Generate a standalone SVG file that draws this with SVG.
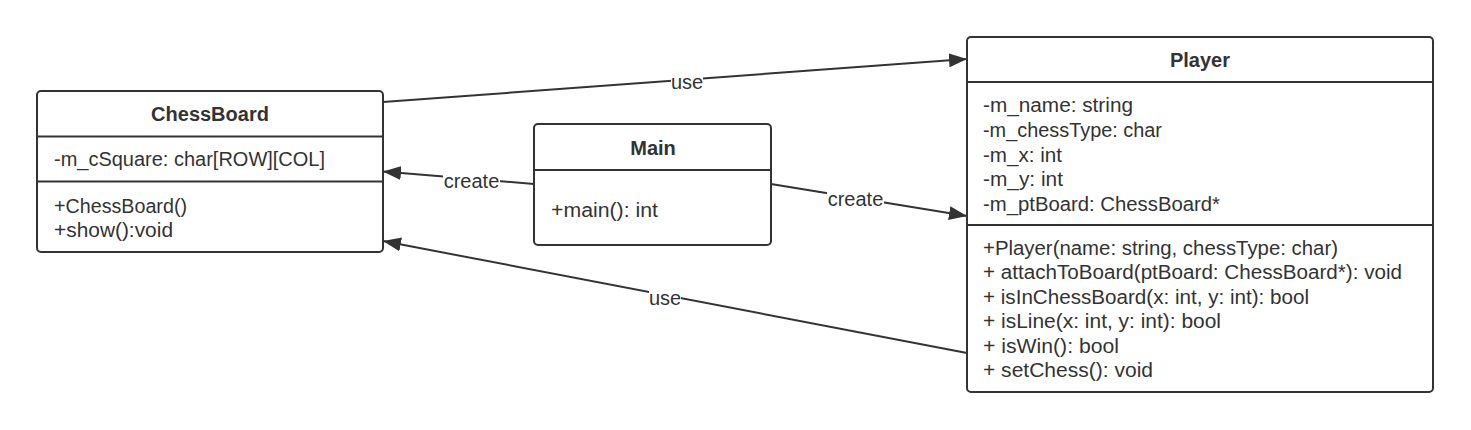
<svg xmlns="http://www.w3.org/2000/svg" width="1471" height="430" viewBox="0 0 1471 430">
<style>
.box{fill:#fff;stroke:#333;stroke-width:2}
.div{stroke:#333;stroke-width:2}
.t{font-family:"Liberation Sans",Arial,sans-serif;font-size:20px;fill:#333}
.b{font-weight:bold;text-anchor:middle}
.edge{stroke:#333;stroke-width:2;fill:none}
.lbg{fill:#fff}
.lbl{font-family:"Liberation Sans",Arial,sans-serif;font-size:20px;fill:#333;text-anchor:middle}
</style>
<defs>
<marker id="arr" markerUnits="userSpaceOnUse" markerWidth="18" markerHeight="14" refX="18" refY="7" orient="auto">
<path d="M0,0 L18,7 L0,14 z" fill="#333"/>
</marker>
</defs>
<rect width="1471" height="430" fill="#fff"/>
<g id="connectors">
<line class="edge" x1="383" y1="102" x2="967" y2="59" marker-end="url(#arr)"/>
<line class="edge" x1="534" y1="184" x2="383" y2="171.5" marker-end="url(#arr)"/>
<line class="edge" x1="771" y1="184" x2="967" y2="216" marker-end="url(#arr)"/>
<line class="edge" x1="967" y1="353" x2="383" y2="241" marker-end="url(#arr)"/>
<rect class="lbg" x="671" y="70" width="32" height="22"/>
<text class="lbl" x="687" y="89">use</text>
<rect class="lbg" x="443" y="170" width="57" height="22"/>
<text class="lbl" x="471.5" y="188">create</text>
<rect class="lbg" x="827" y="188" width="57" height="22"/>
<text class="lbl" x="855.5" y="206">create</text>
<rect class="lbg" x="649" y="287" width="32" height="22"/>
<text class="lbl" x="665" y="305">use</text>
</g>
<g id="ChessBoard">
<rect class="box" x="37" y="91" width="346" height="161" rx="4"/>
<line class="div" x1="37" y1="136.5" x2="383" y2="136.5"/>
<line class="div" x1="37" y1="181.5" x2="383" y2="181.5"/>
<text class="t b" x="210" y="121">ChessBoard</text>
<text class="t" x="54" y="166" textLength="271" lengthAdjust="spacingAndGlyphs">-m_cSquare: char[ROW][COL]</text>
<text class="t" x="54" y="213" textLength="133" lengthAdjust="spacingAndGlyphs">+ChessBoard()</text>
<text class="t" x="54" y="237" textLength="119" lengthAdjust="spacingAndGlyphs">+show():void</text>
</g>
<g id="Main">
<rect class="box" x="534" y="124" width="237" height="121" rx="4"/>
<line class="div" x1="534" y1="170" x2="771" y2="170"/>
<text class="t b" x="653" y="155">Main</text>
<text class="t" x="551" y="217" textLength="107" lengthAdjust="spacingAndGlyphs">+main(): int</text>
</g>
<g id="Player">
<rect class="box" x="967" y="37" width="466" height="355" rx="4"/>
<line class="div" x1="967" y1="82" x2="1433" y2="82"/>
<line class="div" x1="967" y1="225" x2="1433" y2="225"/>
<text class="t b" x="1200" y="67">Player</text>
<text class="t" x="983" y="112" textLength="150" lengthAdjust="spacingAndGlyphs">-m_name: string</text>
<text class="t" x="983" y="137" textLength="179" lengthAdjust="spacingAndGlyphs">-m_chessType: char</text>
<text class="t" x="983" y="162" textLength="79" lengthAdjust="spacingAndGlyphs">-m_x: int</text>
<text class="t" x="983" y="186" textLength="80" lengthAdjust="spacingAndGlyphs">-m_y: int</text>
<text class="t" x="983" y="211" textLength="237" lengthAdjust="spacingAndGlyphs">-m_ptBoard: ChessBoard*</text>
<text class="t" x="983" y="255" textLength="355" lengthAdjust="spacingAndGlyphs">+Player(name: string, chessType: char)</text>
<text class="t" x="983" y="279" textLength="419" lengthAdjust="spacingAndGlyphs">+ attachToBoard(ptBoard: ChessBoard*): void</text>
<text class="t" x="983" y="304" textLength="326" lengthAdjust="spacingAndGlyphs">+ isInChessBoard(x: int, y: int): bool</text>
<text class="t" x="983" y="328" textLength="238" lengthAdjust="spacingAndGlyphs">+ isLine(x: int, y: int): bool</text>
<text class="t" x="983" y="353" textLength="136" lengthAdjust="spacingAndGlyphs">+ isWin(): bool</text>
<text class="t" x="983" y="377" textLength="170" lengthAdjust="spacingAndGlyphs">+ setChess(): void</text>
</g>
</svg>
